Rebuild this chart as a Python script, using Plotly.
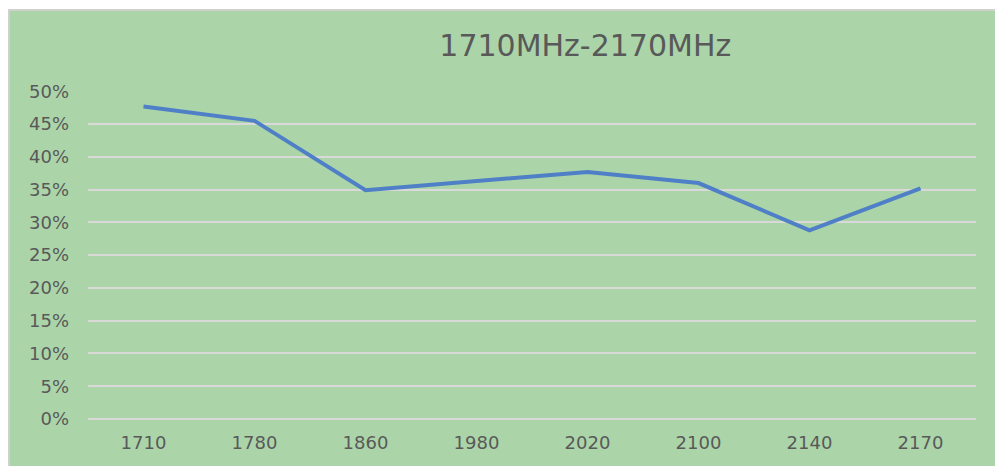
"""Efficiency over the 1710MHz-2170MHz band."""
import plotly.graph_objects as go

freqs = ["1710", "1780", "1860", "1980", "2020", "2100", "2140", "2170"]
efficiency = [0.477, 0.455, 0.349, 0.363, 0.377, 0.360, 0.288, 0.352]
y_ticks = [0.0, 0.05, 0.10, 0.15, 0.20, 0.25, 0.30, 0.35, 0.40, 0.45, 0.50]
y_labels = ["0%", "5%", "10%", "15%", "20%", "25%", "30%", "35%", "40%", "45%", "50%"]

GREEN = "#ABD5A9"
GREY = "#595959"

fig = go.Figure(
    go.Scatter(
        x=freqs,
        y=efficiency,
        mode="lines",
        line=dict(color="#4F7FC6", width=4),
    )
)

# green chart area with a thin border, larger than the plot area
fig.add_shape(
    type="rect",
    xref="paper",
    yref="paper",
    x0=-0.089,
    x1=1.04,
    y0=-0.16,
    y1=1.247,
    fillcolor=GREEN,
    line=dict(color="#D0D0D0", width=2),
    layer="below",
)

# the page body adds an 8px margin, so the figure is 8px smaller
fig.update_layout(
    width=995,
    height=458,
    margin=dict(l=80, r=27, t=83, b=47, autoexpand=False),
    paper_bgcolor="white",
    plot_bgcolor=GREEN,
    showlegend=False,
    font=dict(family="DejaVu Sans", size=18, color=GREY),
    title=dict(
        text="1710MHz-2170MHz",
        x=0.56,
        xref="paper",
        xanchor="center",
        y=0.919,
        yref="container",
        yanchor="middle",
        font=dict(family="DejaVu Sans", size=30, color=GREY),
    ),
)
fig.update_xaxes(
    type="category",
    range=[-0.5, len(freqs) - 0.5],
    automargin=False,
    showgrid=False,
    showline=False,
    zeroline=False,
    ticklabelstandoff=11,
)
fig.update_yaxes(
    range=[0, 0.5005],
    tickvals=y_ticks,
    ticktext=y_labels,
    automargin=False,
    showgrid=True,
    gridcolor="#D9D9D9",
    gridwidth=1.5,
    zeroline=True,
    zerolinecolor="#D9D9D9",
    zerolinewidth=1.5,
    showline=False,
    ticklabelstandoff=18,
)

fig.write_html("out.html")
